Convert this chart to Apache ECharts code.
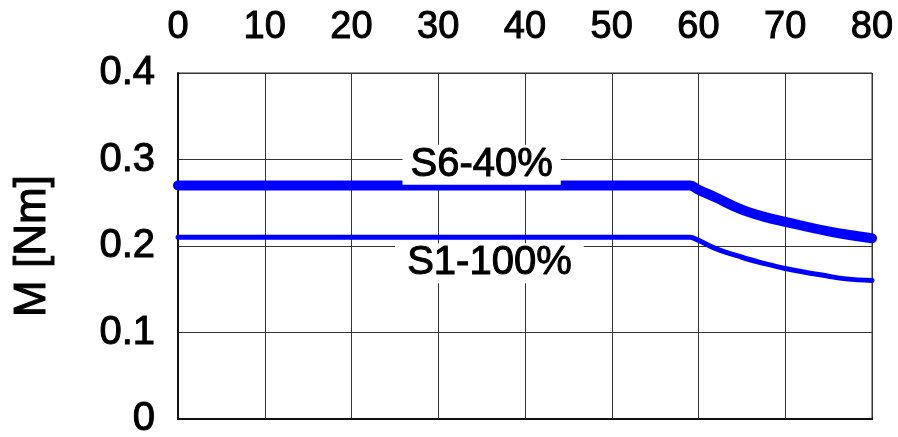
<!DOCTYPE html>
<html>
<head>
<meta charset="utf-8">
<script src="https://cdn.jsdelivr.net/npm/echarts@6/dist/echarts.min.js"></script>
<style>
  html, body { margin:0; padding:0; background:#fff; }
  #chart { width:898px; height:437px; }
</style>
</head>
<body>
<div id="chart"></div>
<script>
// speed axis (top) and torque values
var speedS6 = [0, 59, 60, 62, 65, 67.5, 70, 75, 80];
var torqueS6 = [0.27, 0.27, 0.265, 0.256, 0.242, 0.234, 0.228, 0.217, 0.209];
var speedS1 = [0, 59, 60, 62, 65, 67.5, 70, 75, 77, 80];
var torqueS1 = [0.21, 0.21, 0.2065, 0.197, 0.187, 0.18, 0.174, 0.165, 0.162, 0.16];
var labelS6 = { text: 'S6-40%', x: 35, y: 0.294 };
var labelS1 = { text: 'S1-100%', x: 35.9, y: 0.18 };

function pairs(xs, ys) {
  return xs.map(function (x, i) { return [x, ys[i]]; });
}

var font = 'Liberation Sans, Arial, sans-serif';
// slightly heavier text, like the reference
var txt = { color: '#000', fontFamily: font, textBorderColor: '#000', textBorderWidth: 1 };

var chart = echarts.init(document.getElementById('chart'));
chart.setOption({
  backgroundColor: '#fff',
  animation: false,
  grid: {
    left: 178,
    top: 73,
    right: 26,
    bottom: 18,
    outerBoundsMode: 'none',
    containLabel: false,
    show: true,
    borderColor: '#333',
    borderWidth: 1
  },
  xAxis: [
    {
      type: 'value',
      position: 'top',
      min: 0,
      max: 80,
      interval: 10,
      axisLine: { show: true, lineStyle: { color: '#333', width: 1 } },
      axisTick: { show: false },
      axisLabel: Object.assign({ fontSize: 38, margin: 26 }, txt),
      splitLine: { show: true, lineStyle: { color: '#333', width: 1 } }
    },
    {
      type: 'value',
      position: 'bottom',
      min: 0,
      max: 80,
      interval: 10,
      axisLine: { show: true, onZero: false, lineStyle: { color: '#111', width: 2 } },
      axisTick: { show: false },
      axisLabel: { show: false },
      splitLine: { show: false }
    }
  ],
  yAxis: {
    type: 'value',
    min: 0,
    max: 0.4,
    interval: 0.1,
    name: 'M [Nm]',
    nameLocation: 'middle',
    nameRotate: 90,
    nameGap: 123,
    nameTextStyle: Object.assign({ fontSize: 44 }, txt),
    axisLine: { show: true, lineStyle: { color: '#111', width: 2 } },
    axisTick: { show: false },
    axisLabel: Object.assign({
      fontSize: 40, margin: 23,
      formatter: function (v) { return v === 0 ? '0' : v.toFixed(1); }
    }, txt),
    splitLine: { show: true, lineStyle: { color: '#333', width: 1 } }
  },
  series: [
    {
      name: 'S6-40%',
      type: 'line',
      xAxisIndex: 0,
      showSymbol: false,
      smooth: 0.4,
      data: pairs(speedS6, torqueS6),
      lineStyle: { color: '#0000ff', width: 10, cap: 'round' },
      markPoint: {
        symbolSize: 0,
        data: [{ coord: [labelS6.x, labelS6.y] }],
        label: Object.assign({
          show: true,
          position: 'inside',
          formatter: labelS6.text,
          fontSize: 40,
          backgroundColor: '#fff',
          padding: [0, 8]
        }, txt)
      }
    },
    {
      name: 'S1-100%',
      type: 'line',
      xAxisIndex: 0,
      showSymbol: false,
      smooth: 0.4,
      data: pairs(speedS1, torqueS1),
      lineStyle: { color: '#0000ff', width: 5, cap: 'round' },
      markPoint: {
        symbolSize: 0,
        data: [{ coord: [labelS1.x, labelS1.y] }],
        label: Object.assign({
          show: true,
          position: 'inside',
          formatter: labelS1.text,
          fontSize: 40,
          backgroundColor: '#fff',
          padding: [0, 12]
        }, txt)
      }
    }
  ]
});
</script>
</body>
</html>
